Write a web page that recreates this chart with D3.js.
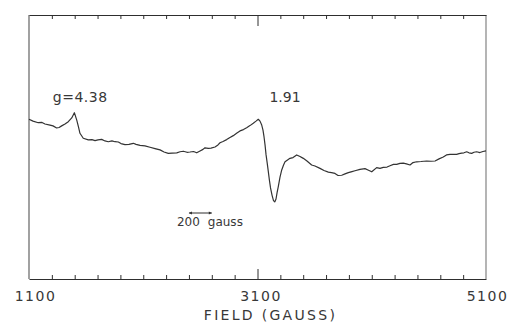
<!DOCTYPE html>
<html>
<head>
<meta charset="utf-8">
<script src="https://cdn.jsdelivr.net/npm/d3@7"></script>
<style>
  html, body { margin: 0; padding: 0; background: #fff; }
  svg { display: block; }
  text { font-family: "DejaVu Sans", sans-serif; fill: #383838; }
</style>
</head>
<body>
<svg id="chart" width="510" height="322"></svg>
<script>
// ---- data ----
const fieldValues = [1100,1135,1181,1214,1240,1284,1310,1342,1363,1386,1415,1444,1474,1497,1518,1533,1546,1575,1619,1651,
  1678,1704,1736,1765,1794,1826,1853,1882,1905,1940,1975,2013,2037,2072,2115,2159,2203,2247,2282,2319,
  2352,2393,2422,2451,2483,2509,2540,2568,2597,2623,2640,2669,2693,2728,2754,2772,2798,2830,2859,2888,
  2920,2947,2977,3005,3034,3063,3087,3107,3122,3137,3148,3157,3166,3175,3185,3195,3204,3214,3227,3240,
  3251,3262,3271,3282,3297,3312,3328,3341,3363,3384,3411,3443,3472,3501,3533,3574,3603,3647,3682,3720,
  3748,3778,3805,3837,3866,3895,3927,3953,3997,4041,4067,4100,4143,4172,4201,4234,4260,4290,4318,4347,
  4376,4404,4435,4461,4493,4531,4581,4619,4654,4689,4726,4754,4785,4811,4843,4864,4887,4907,4931,4951,
  4975,4995,5018,5047,5073,5100];
const signalValues = [60.5,59.8,59.2,59.3,58.7,58.3,58.0,57.2,57.4,58.0,58.7,59.6,61.0,63.0,60.2,57.6,55.2,53.3,52.7,52.8,
  52.4,52.7,52.9,52.3,52.0,52.3,52.0,51.9,51.3,50.9,51.0,51.4,51.0,50.6,50.4,49.9,49.4,48.9,48.1,47.6,
  47.7,47.8,48.2,48.4,48.0,48.1,48.3,47.8,48.5,49.1,49.7,49.5,49.6,50.0,50.8,51.6,52.1,52.8,53.6,54.3,
  55.3,56.1,56.6,57.3,58.1,59.0,59.8,60.5,59.8,58.3,56.4,53.9,50.8,47.0,43.9,40.6,37.5,34.5,31.8,29.7,
  29.2,30.3,32.6,35.0,38.6,41.3,43.2,44.4,45.1,45.7,46.0,47.0,46.4,45.7,44.7,43.2,42.8,41.9,41.1,40.5,
  40.3,40.0,39.2,39.3,39.8,40.3,40.7,41.0,41.5,41.8,41.3,40.6,42.2,41.9,42.3,42.4,42.9,43.4,43.4,43.8,
  43.9,43.6,43.2,44.1,44.4,44.5,44.7,44.6,44.7,45.5,46.2,47.0,47.2,47.2,47.2,47.5,47.7,47.8,48.2,47.8,
  47.6,48.0,48.2,47.9,48.3,48.5];
const tickFields = d3.range(1100, 5101, 200);
const tickLabels = [1100, 3100, 5100];
const axisTitle = "FIELD (GAUSS)";
const peakLabels = [{ text: "g=4.38", field: 1300 }, { text: "1.91", field: 3200 }];
const scaleBar = { from: 2500, to: 2700, label: "200", unit: "gauss" };

// ---- layout ----
const svg = d3.select("#chart");
const m = { left: 29, right: 24, top: 15, bottom: 43 };
const W = 510, H = 322;
const x = d3.scaleLinear().domain([1100, 5100]).range([m.left, W - m.right]);
const y = d3.scaleLinear().domain([0, 100]).range([H - m.bottom, m.top]);
const ink = "#2e2e2e";

// frame
const frame = svg.append("g");
frame.append("line").attr("x1", x(1100)).attr("x2", x(1100)).attr("y1", y(100)).attr("y2", y(0))
  .attr("stroke", "#555").attr("stroke-width", 1.1);
frame.append("line").attr("x1", x(5100)).attr("x2", x(5100)).attr("y1", y(100)).attr("y2", y(0))
  .attr("stroke", "#777").attr("stroke-width", 1.1);

// bottom axis
const bottomAxis = svg.append("g").attr("transform", `translate(0,${y(0)})`)
  .call(d3.axisBottom(x).tickValues(tickFields).tickSizeInner(-4).tickSizeOuter(0).tickPadding(12)
    .tickFormat(d => tickLabels.includes(d) ? d : ""));
bottomAxis.select(".domain").attr("stroke", ink).attr("stroke-width", 1.2);
bottomAxis.selectAll(".tick line").attr("stroke", ink)
  .attr("y2", d => d === 3100 ? -10 : (d === 1100 || d === 5100 ? 0 : -4));
bottomAxis.selectAll(".tick text").attr("font-size", 14).attr("letter-spacing", "1.5px")
  .attr("fill", "#383838").attr("font-family", "DejaVu Sans, sans-serif")
  .attr("dx", d => d === 1100 ? 6 : (d === 3100 ? 3 : 1));

// top axis
const topAxis = svg.append("g").attr("transform", `translate(0,${y(100)})`)
  .call(d3.axisTop(x).tickValues(tickFields).tickSizeInner(-4).tickSizeOuter(0).tickFormat(""));
topAxis.select(".domain").attr("stroke", ink).attr("stroke-width", 1.2);
topAxis.selectAll(".tick line").attr("stroke", ink)
  .attr("y2", d => d === 3100 ? 11 : (d === 1100 || d === 5100 ? 0 : 4));

// axis title
svg.append("text").attr("x", x(3100) + 13).attr("y", 320).attr("text-anchor", "middle")
  .attr("font-size", 14).attr("letter-spacing", "2.3px").text(axisTitle);

// trace
const pts = fieldValues.map((f, i) => [f, signalValues[i]]);
svg.append("path").datum(pts)
  .attr("fill", "none").attr("stroke", "#333").attr("stroke-width", 1.2)
  .attr("stroke-linejoin", "round")
  .attr("d", d3.line().x(d => x(d[0])).y(d => y(d[1])));

// peak labels
svg.append("text").attr("x", x(peakLabels[0].field) + 1).attr("y", 101.5)
  .attr("font-size", 14).attr("letter-spacing", "0.5px").text(peakLabels[0].text);
svg.append("text").attr("x", x(peakLabels[1].field) + 0.5).attr("y", 102)
  .attr("font-size", 14).text(peakLabels[1].text);

// scale bar
const ay = 213;
svg.append("line").attr("x1", x(scaleBar.from)).attr("x2", x(scaleBar.to)).attr("y1", ay).attr("y2", ay)
  .attr("stroke", ink).attr("stroke-width", 1);
[[scaleBar.from, 1], [scaleBar.to, -1]].forEach(([f, s]) => {
  svg.append("path")
    .attr("d", `M${x(f)},${ay} l${3 * s},-1.5 l0,3 z`)
    .attr("fill", ink);
});
svg.append("text").attr("x", x(scaleBar.from) - 12).attr("y", 226).attr("font-size", 12).text(scaleBar.label);
svg.append("text").attr("x", x(scaleBar.to) - 4).attr("y", 226).attr("font-size", 12).text(scaleBar.unit);
</script>
</body>
</html>
